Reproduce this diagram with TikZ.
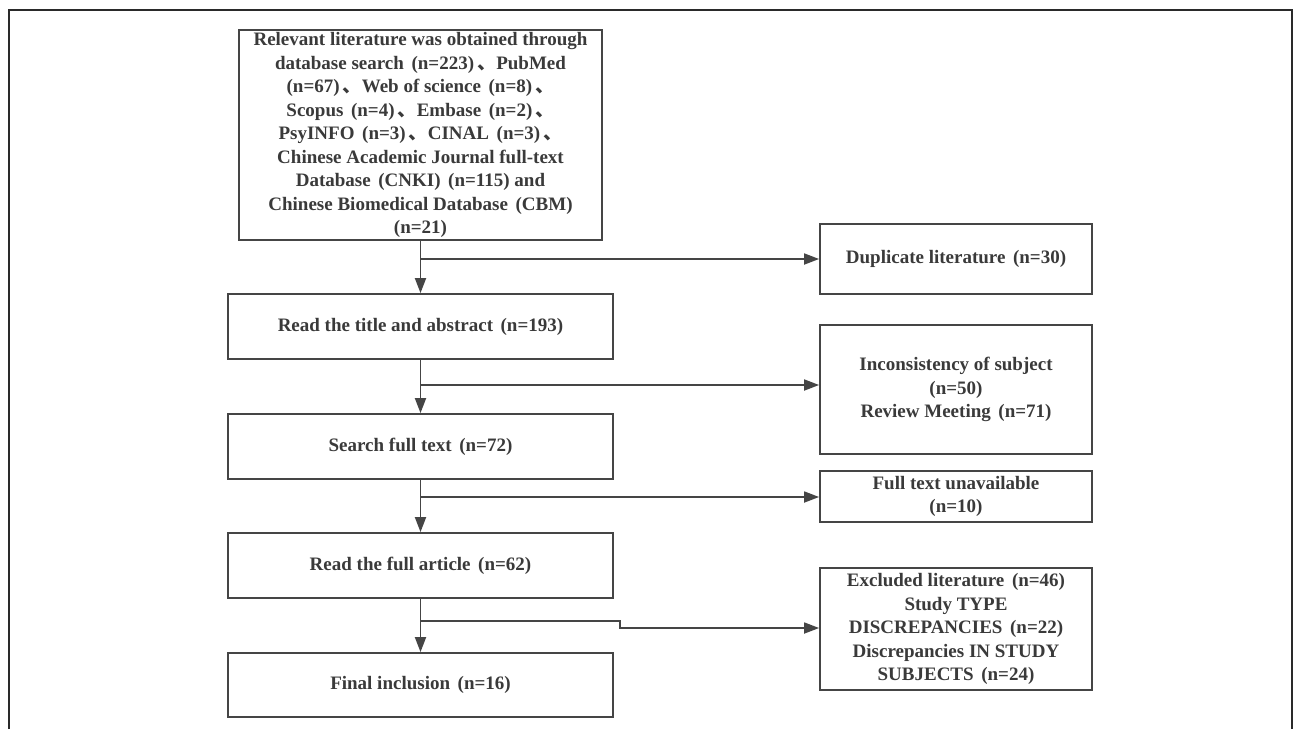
\documentclass[tikz,border=0pt]{standalone}
\usepackage{fontspec}
\setmainfont{Liberation Serif}
\newfontfamily\cjkfont{Noto Sans CJK SC}
\usetikzlibrary{arrows.meta}
\newcommand\dunhao{{\cjkfont 、}}
\newcommand\op{\hspace{0.4em}(}
\definecolor{linec}{HTML}{454545}
\definecolor{textc}{HTML}{3A3A3A}
\definecolor{framec}{HTML}{2A2A2A}
\begin{document}
\begin{tikzpicture}[x=1pt,y=-1pt,
  box/.style={draw=linec, line width=1.8pt, fill=white, align=center,
    font=\bfseries\fontsize{19}{23.5}\selectfont, text=textc, inner sep=0pt},
  arr/.style={draw=linec, line width=1.8pt, -{Triangle[length=15pt,width=11pt]}},
  conn/.style={draw=linec, line width=1.8pt}]
\useasboundingbox (0,0) rectangle (1295,729);
\draw[framec, line width=1.8pt] (9,729) -- (9,10) -- (1292,10) -- (1292,729);

\node[box, minimum width=363pt, minimum height=210pt] (b1) at (420.5,135)
 {Relevant literature was obtained through\\
  database search\op n=223)\,\dunhao PubMed\\
  (n=67)\,\dunhao Web of science\op n=8)\,\dunhao\\
  Scopus\op n=4)\,\dunhao Embase\op n=2)\,\dunhao\\
  PsyINFO\op n=3)\,\dunhao CINAL\op n=3)\,\dunhao\\
  Chinese Academic Journal full-text\\
  Database\op CNKI)\op n=115) and\\
  Chinese Biomedical Database\op CBM)\\
  (n=21)};
\node[box, minimum width=385pt, minimum height=65pt] (b2) at (420.5,326.5)
 {Read the title and abstract\op n=193)};
\node[box, minimum width=385pt, minimum height=65pt] (b3) at (420.5,446.5)
 {Search full text\op n=72)};
\node[box, minimum width=385pt, minimum height=65pt] (b4) at (420.5,565.5)
 {Read the full article\op n=62)};
\node[box, minimum width=385pt, minimum height=64pt] (b5) at (420.5,685)
 {Final inclusion\op n=16)};

\node[box, minimum width=272pt, minimum height=70pt] (r1) at (956,259)
 {Duplicate literature\op n=30)};
\node[box, minimum width=272pt, minimum height=129pt] (r2) at (956,389.5)
 {Inconsistency of subject\\(n=50)\\Review Meeting\op n=71)};
\node[box, minimum width=272pt, minimum height=51pt] (r3) at (956,496.5)
 {Full text unavailable\\(n=10)};
\node[box, minimum width=272pt, minimum height=122pt] (r4) at (956,629)
 {Excluded literature\op n=46)\\Study TYPE\\DISCREPANCIES\op n=22)\\Discrepancies IN STUDY\\SUBJECTS\op n=24)};

\coordinate (j1) at (420.5,259);
\coordinate (j2) at (420.5,385);
\coordinate (j3) at (420.5,497);
\coordinate (j4) at (420.5,621);
\coordinate (k4a) at (620,621);
\coordinate (k4b) at (620,628);

\draw[arr] (b1.south) -- (b2.north);
\draw[arr] (b2.south) -- (b3.north);
\draw[arr] (b3.south) -- (b4.north);
\draw[arr] (b4.south) -- (b5.north);

\draw[arr] (j1) -- (r1.west |- j1);
\draw[arr] (j2) -- (r2.west |- j2);
\draw[arr] (j3) -- (r3.west |- j3);
\draw[arr] (j4) -- (k4a) -- (k4b) -- (r4.west |- k4b);
\end{tikzpicture}
\end{document}
